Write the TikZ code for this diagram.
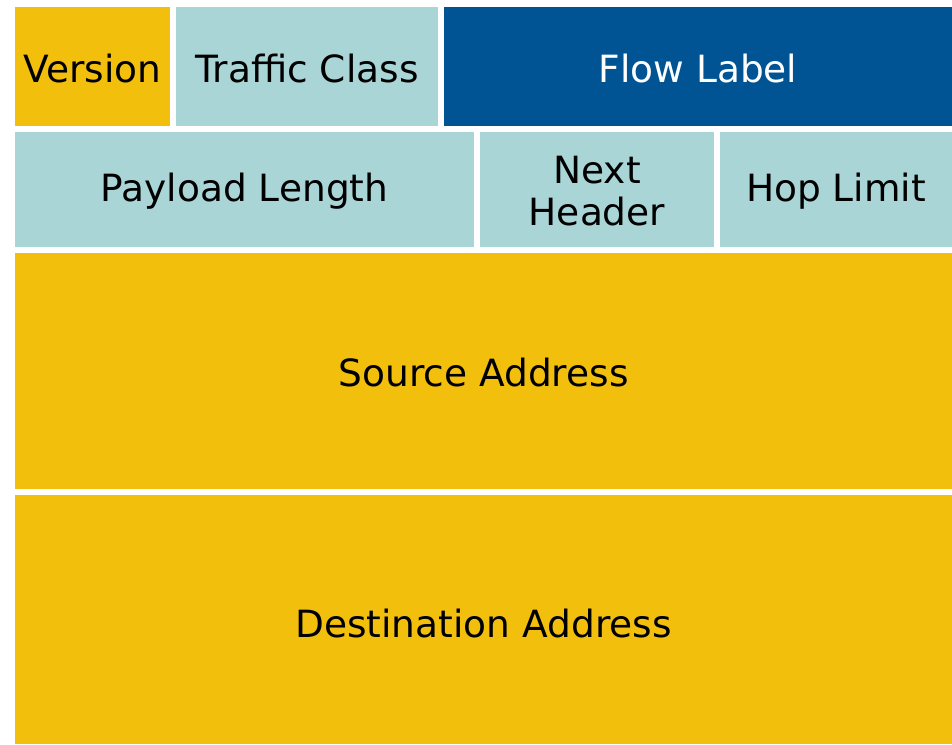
\documentclass[tikz,border=0pt]{standalone}
\usepackage{fontspec}
\setmainfont{DejaVu Sans}
\definecolor{gold}{HTML}{F2BF0D}
\definecolor{teal}{HTML}{A9D5D7}
\definecolor{navy}{HTML}{015493}
\begin{document}
\begin{tikzpicture}[x=1pt,y=-1pt,
  field/.style={inner sep=0pt, outer sep=0pt, font=\fontsize{37.5}{42}\selectfont, align=center, text=black},
  goldf/.style={field, fill=gold},
  tealf/.style={field, fill=teal},
  navyf/.style={field, fill=navy, text=white}]
\useasboundingbox (0,0) rectangle (952,744);
\fill[white] (0,0) rectangle (952,744);
% row 1
\path[goldf] (15,7) rectangle (170,126);
\node[field] (version) at (92.5,69) {Version};
\path[tealf] (176,7) rectangle (438,126);
\node[field] (tclass) at (307,69) {Traffic Class};
\path[navyf] (444,7) rectangle (952,126);
\node[field, text=white] (flow) at (698,69) {Flow Label};
% row 2
\path[tealf] (15,132) rectangle (474,247);
\node[field] (payload) at (244.5,191) {Payload Length};
\path[tealf] (480,132) rectangle (714,247);
\node[field] (next) at (597,191) {Next\\Header};
\path[tealf] (720,132) rectangle (952,247);
\node[field] (hop) at (836,191) {Hop Limit};
% row 3
\path[goldf] (15,253) rectangle (952,489);
\node[field] (src) at (483.5,373) {Source Address};
% row 4
\path[goldf] (15,495) rectangle (952,744);
\node[field] (dst) at (483.5,624) {Destination Address};
\end{tikzpicture}
\end{document}
